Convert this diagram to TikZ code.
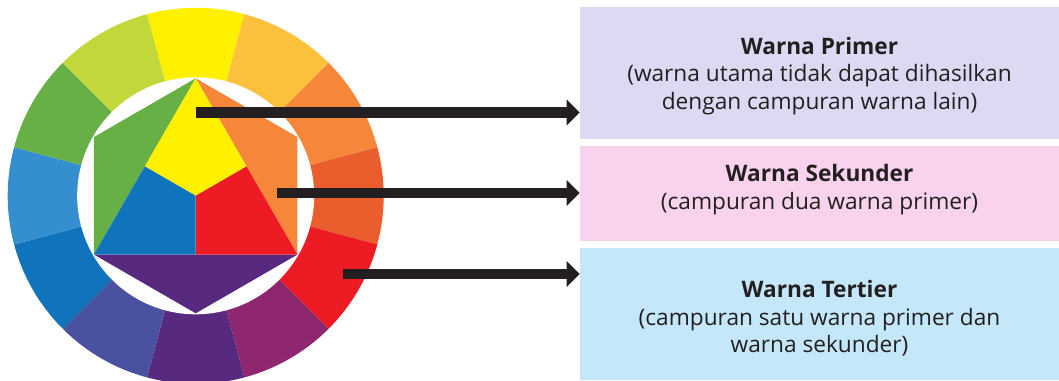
\documentclass[tikz,border=0pt]{standalone}
\usepackage{fontspec}
\setmainfont{Open Sans}
\usetikzlibrary{arrows.meta,calc}

\definecolor{cYellow}{HTML}{FFF000}
\definecolor{cYellowOrange}{HTML}{FBC13D}
\definecolor{cOrange}{HTML}{F6873A}
\definecolor{cRedOrange}{HTML}{E95E2C}
\definecolor{cRed}{HTML}{ED1C24}
\definecolor{cRedViolet}{HTML}{8F2770}
\definecolor{cViolet}{HTML}{572A7F}
\definecolor{cBlueViolet}{HTML}{4A51A0}
\definecolor{cBlue}{HTML}{1074BC}
\definecolor{cLightBlue}{HTML}{358ECE}
\definecolor{cGreen}{HTML}{67B046}
\definecolor{cYellowGreen}{HTML}{C1D73A}
\definecolor{inkdark}{HTML}{231F20}
\definecolor{primbg}{HTML}{DCDAF3}
\definecolor{sekbg}{HTML}{F9D3EE}
\definecolor{terbg}{HTML}{C4E7F9}

\tikzset{
    infobox/.style={minimum width=359.25pt, inner sep=0pt},
    infotext/.style={text=inkdark, font=\fontsize{17}{20.6}\selectfont},
    pointer/.style={line width=7.9pt, draw=inkdark,
        -{Triangle[length=9.75pt,width=18.75pt]}}
}

\begin{document}
\begin{tikzpicture}[x=0.75pt,y=0.75pt]
        \useasboundingbox (0,0) rectangle (1059,380);

        \coordinate (wheel) at (195.7,184.2);
        \begin{scope}[shift={(wheel)}]
            \foreach \ang/\col in {90/cYellow,60/cYellowOrange,30/cOrange,0/cRedOrange,
                -30/cRed,-60/cRedViolet,-90/cViolet,-120/cBlueViolet,-150/cBlue,
                180/cLightBlue,150/cGreen,120/cYellowGreen}
                \fill[\col] (0,0) -- (\ang-15:188) arc[start angle=\ang-15,end angle=\ang+15,radius=188] -- cycle;
            \fill[white] (0,0) circle[radius=118.5];

            \foreach \k/\a in {0/90,1/30,2/-30,3/-90,4/210,5/150}
                \coordinate (h\k) at (\a:117.5);
            \coordinate (mid) at (0,0);
            \coordinate (m02) at ($(h0)!0.5!(h2)$);
            \coordinate (m24) at ($(h2)!0.5!(h4)$);
            \coordinate (m04) at ($(h0)!0.5!(h4)$);

            \fill[cOrange] (h0) -- (h1) -- (h2) -- cycle;
            \fill[cViolet] (h2) -- (h3) -- (h4) -- cycle;
            \fill[cGreen] (h4) -- (h5) -- (h0) -- cycle;
            \fill[cYellow] (h0) -- (m02) -- (mid) -- (m04) -- cycle;
            \fill[cRed] (h2) -- (m24) -- (mid) -- (m02) -- cycle;
            \fill[cBlue] (h4) -- (m04) -- (mid) -- (m24) -- cycle;
        \end{scope}

        \node[infobox, fill=primbg, minimum height=99.45pt] (primer) at (819.5,307) {};
        \node[infobox, fill=sekbg, minimum height=71pt] (sekunder) at (819.5,186.65) {};
        \node[infobox, fill=terbg, minimum height=99pt] (tertier) at (819.5,66) {};

        \node[infotext] (primerText) at (819.5,303.5) {
            \begin{tabular}{c}
                \textbf{Warna Primer} \\
                (warna utama tidak dapat dihasilkan \\
                dengan campuran warna lain)
            \end{tabular}
            };
        \node[infotext] (sekunderText) at (819.5,190) {
            \begin{tabular}{c}
                \textbf{Warna Sekunder} \\
                (campuran dua warna primer)
            \end{tabular}
            };
        \node[infotext] (tertierText) at (819.5,60.3) {
            \begin{tabular}{c}
                \textbf{Warna Tertier} \\
                (campuran satu warna primer dan \\
                warna sekunder)
            \end{tabular}
            };

        \coordinate (s1) at (195.7,267.5);
        \coordinate (s2) at (277,187);
        \coordinate (s3) at (342.7,106);
        \draw[pointer] (s1) -- (s1 -| primer.west);
        \draw[pointer] (s2) -- (s2 -| sekunder.west);
        \draw[pointer] (s3) -- (s3 -| tertier.west);
    \end{tikzpicture}
\end{document}
